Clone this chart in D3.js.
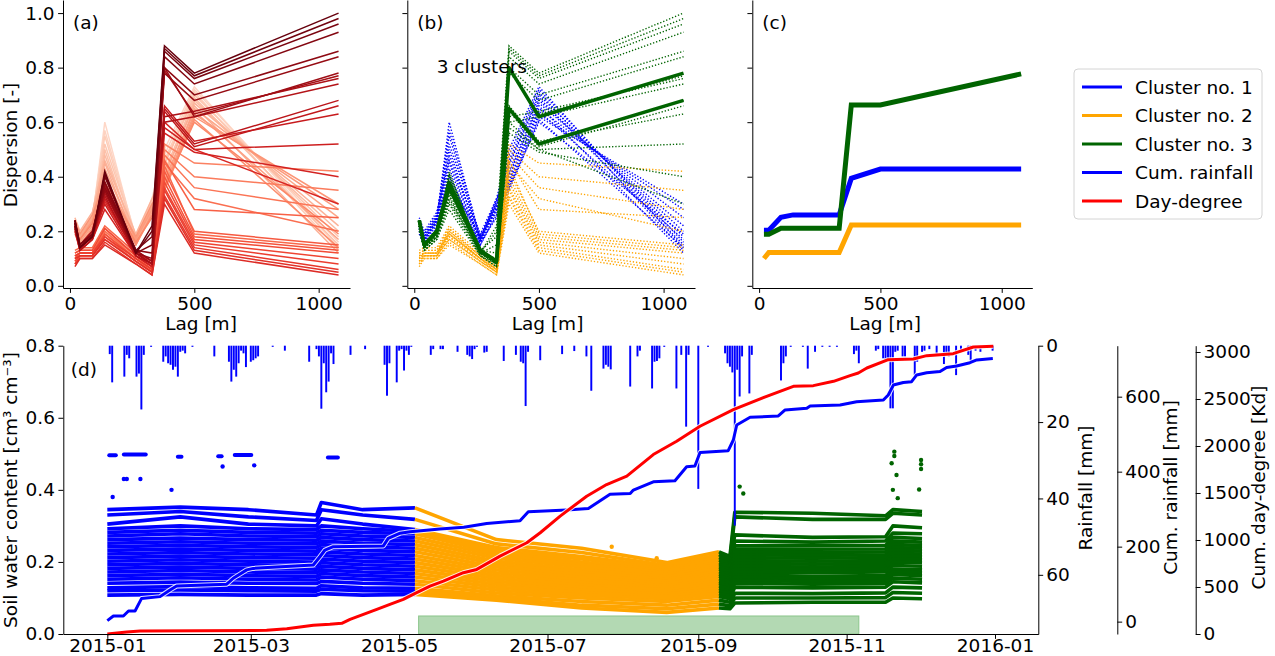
<!DOCTYPE html>
<html>
<head>
<meta charset="utf-8">
<script src="https://cdn.jsdelivr.net/npm/d3@7"></script>
<style>
  body { margin: 0; background: #fff; }
  text { font-family: "DejaVu Sans", sans-serif; }
</style>
</head>
<body>
<svg id="chart" width="1275" height="656"></svg>
<script>
// ---- variogram panels (a)-(c) ----
const lags = [20, 40, 90, 140, 265, 330, 380, 500, 1080];

// one curve per day, cluster 1 (Jan - early May)
const curvesCluster1 = [
  [0.22, 0.17, 0.24, 0.60, 0.17, 0.32, 0.50, 0.73, 0.14],
  [0.23, 0.18, 0.25, 0.57, 0.18, 0.31, 0.48, 0.72, 0.16],
  [0.21, 0.17, 0.24, 0.55, 0.17, 0.30, 0.46, 0.71, 0.13],
  [0.24, 0.19, 0.26, 0.52, 0.18, 0.31, 0.44, 0.70, 0.18],
  [0.20, 0.16, 0.23, 0.50, 0.16, 0.29, 0.45, 0.69, 0.15],
  [0.22, 0.18, 0.25, 0.48, 0.17, 0.30, 0.42, 0.68, 0.20],
  [0.25, 0.20, 0.27, 0.46, 0.19, 0.32, 0.40, 0.67, 0.22],
  [0.21, 0.17, 0.24, 0.45, 0.16, 0.28, 0.41, 0.66, 0.12],
  [0.23, 0.18, 0.25, 0.43, 0.17, 0.29, 0.38, 0.65, 0.25],
  [0.20, 0.16, 0.22, 0.41, 0.15, 0.27, 0.39, 0.64, 0.17],
  [0.22, 0.17, 0.24, 0.40, 0.17, 0.28, 0.37, 0.63, 0.28],
  [0.24, 0.19, 0.26, 0.38, 0.18, 0.30, 0.36, 0.62, 0.30],
  [0.19, 0.15, 0.21, 0.37, 0.15, 0.26, 0.35, 0.61, 0.14],
  [0.21, 0.17, 0.23, 0.36, 0.16, 0.25, 0.36, 0.60, 0.19]
];
// cluster 2 (May - early Sep)
const curvesCluster2 = [
  [0.10, 0.12, 0.12, 0.20, 0.10, 0.06, 0.52, 0.45, 0.42],
  [0.12, 0.13, 0.13, 0.21, 0.11, 0.07, 0.50, 0.40, 0.35],
  [0.09, 0.11, 0.11, 0.19, 0.10, 0.05, 0.48, 0.36, 0.28],
  [0.11, 0.12, 0.12, 0.20, 0.11, 0.06, 0.45, 0.32, 0.20],
  [0.13, 0.14, 0.14, 0.22, 0.12, 0.08, 0.44, 0.19, 0.14],
  [0.11, 0.12, 0.12, 0.19, 0.10, 0.06, 0.46, 0.28, 0.25],
  [0.08, 0.11, 0.11, 0.18, 0.09, 0.05, 0.42, 0.20, 0.15],
  [0.10, 0.12, 0.12, 0.19, 0.10, 0.06, 0.40, 0.18, 0.13],
  [0.12, 0.13, 0.13, 0.21, 0.11, 0.07, 0.38, 0.17, 0.12],
  [0.09, 0.11, 0.11, 0.17, 0.09, 0.05, 0.36, 0.16, 0.10],
  [0.11, 0.12, 0.12, 0.18, 0.10, 0.06, 0.35, 0.15, 0.08],
  [0.08, 0.10, 0.10, 0.16, 0.08, 0.04, 0.33, 0.14, 0.06],
  [0.10, 0.11, 0.11, 0.17, 0.09, 0.05, 0.32, 0.13, 0.05],
  [0.07, 0.10, 0.10, 0.15, 0.08, 0.04, 0.30, 0.12, 0.04]
];
// cluster 3 (Sep - Dec)
const curvesCluster3 = [
  [0.22, 0.14, 0.18, 0.31, 0.12, 0.09, 0.60, 0.50, 0.30],
  [0.20, 0.13, 0.17, 0.28, 0.11, 0.07, 0.56, 0.49, 0.40],
  [0.21, 0.13, 0.17, 0.30, 0.11, 0.07, 0.58, 0.50, 0.52],
  [0.22, 0.14, 0.18, 0.32, 0.12, 0.08, 0.66, 0.53, 0.63],
  [0.23, 0.14, 0.19, 0.35, 0.12, 0.08, 0.64, 0.51, 0.66],
  [0.24, 0.15, 0.20, 0.36, 0.13, 0.09, 0.65, 0.52, 0.68],
  [0.21, 0.13, 0.17, 0.33, 0.11, 0.08, 0.60, 0.62, 0.74],
  [0.22, 0.14, 0.18, 0.34, 0.12, 0.08, 0.62, 0.64, 0.76],
  [0.23, 0.14, 0.19, 0.37, 0.12, 0.08, 0.79, 0.63, 0.77],
  [0.24, 0.15, 0.20, 0.38, 0.13, 0.09, 0.80, 0.62, 0.78],
  [0.22, 0.14, 0.18, 0.35, 0.12, 0.10, 0.78, 0.68, 0.84],
  [0.23, 0.15, 0.19, 0.36, 0.13, 0.12, 0.80, 0.70, 0.86],
  [0.22, 0.14, 0.18, 0.38, 0.12, 0.15, 0.84, 0.74, 0.93],
  [0.24, 0.15, 0.19, 0.40, 0.13, 0.18, 0.86, 0.76, 0.96],
  [0.23, 0.14, 0.18, 0.41, 0.12, 0.20, 0.87, 0.77, 0.98],
  [0.24, 0.14, 0.18, 0.42, 0.12, 0.22, 0.88, 0.78, 1.00]
];
const boldCluster3 = [5, 9];   // curves that show as solid in (b)

const meanCluster1 = [0.204, 0.204, 0.251, 0.260, 0.260, 0.260, 0.394, 0.428, 0.428];
const meanCluster2 = [0.100, 0.122, 0.122, 0.122, 0.122, 0.122, 0.223, 0.223, 0.223];
const meanCluster3 = [0.189, 0.189, 0.211, 0.211, 0.211, 0.211, 0.663, 0.663, 0.777];

const lagTicks = [0, 500, 1000];
const dispTicks = [0, 0.2, 0.4, 0.6, 0.8, 1.0];

// ---- panel (d): days counted from 2015-01-01 ----
const swcKnotDays = [0, 30, 58, 86, 88, 105, 126.5, 160, 195, 230, 251.5, 256, 258, 290, 320, 323, 335];
const sensors = [
  [0.345, 0.352, 0.345, 0.330, 0.365, 0.345, 0.350, 0.262, 0.238, 0.198, 0.228, 0.215, 0.338, 0.335, 0.328, 0.345, 0.340],
  [0.330, 0.340, 0.325, 0.315, 0.345, 0.330, 0.318, 0.250, 0.226, 0.190, 0.220, 0.205, 0.325, 0.318, 0.318, 0.335, 0.330],
  [0.305, 0.325, 0.305, 0.300, 0.320, 0.305, 0.290, 0.240, 0.215, 0.185, 0.212, 0.200, 0.275, 0.268, 0.270, 0.300, 0.295],
  [0.292, 0.300, 0.292, 0.290, 0.300, 0.292, 0.285, 0.232, 0.208, 0.180, 0.205, 0.195, 0.258, 0.255, 0.258, 0.280, 0.278],
  [0.282, 0.288, 0.282, 0.280, 0.288, 0.282, 0.278, 0.225, 0.200, 0.175, 0.198, 0.190, 0.245, 0.245, 0.246, 0.268, 0.265],
  [0.272, 0.278, 0.272, 0.270, 0.278, 0.272, 0.268, 0.218, 0.193, 0.170, 0.192, 0.185, 0.236, 0.235, 0.236, 0.258, 0.255],
  [0.262, 0.266, 0.262, 0.260, 0.268, 0.262, 0.258, 0.210, 0.186, 0.164, 0.186, 0.178, 0.228, 0.226, 0.228, 0.248, 0.246],
  [0.252, 0.256, 0.252, 0.250, 0.258, 0.252, 0.248, 0.202, 0.178, 0.158, 0.180, 0.172, 0.220, 0.218, 0.220, 0.240, 0.238],
  [0.242, 0.246, 0.242, 0.240, 0.248, 0.242, 0.238, 0.194, 0.171, 0.152, 0.173, 0.165, 0.212, 0.210, 0.212, 0.232, 0.230],
  [0.232, 0.236, 0.232, 0.230, 0.238, 0.232, 0.228, 0.186, 0.164, 0.146, 0.166, 0.158, 0.204, 0.202, 0.204, 0.224, 0.222],
  [0.222, 0.226, 0.222, 0.220, 0.228, 0.222, 0.218, 0.178, 0.157, 0.140, 0.160, 0.152, 0.196, 0.194, 0.196, 0.216, 0.214],
  [0.212, 0.216, 0.212, 0.210, 0.218, 0.212, 0.208, 0.170, 0.150, 0.134, 0.153, 0.145, 0.188, 0.186, 0.188, 0.208, 0.206],
  [0.202, 0.206, 0.202, 0.200, 0.208, 0.202, 0.198, 0.162, 0.143, 0.128, 0.146, 0.138, 0.180, 0.178, 0.180, 0.200, 0.198],
  [0.192, 0.196, 0.192, 0.190, 0.198, 0.192, 0.188, 0.154, 0.136, 0.122, 0.140, 0.132, 0.172, 0.170, 0.172, 0.190, 0.188],
  [0.182, 0.186, 0.182, 0.180, 0.188, 0.182, 0.178, 0.146, 0.129, 0.116, 0.133, 0.125, 0.164, 0.160, 0.162, 0.180, 0.178],
  [0.172, 0.176, 0.172, 0.170, 0.178, 0.172, 0.168, 0.138, 0.122, 0.110, 0.126, 0.118, 0.158, 0.152, 0.155, 0.172, 0.170],
  [0.162, 0.166, 0.162, 0.160, 0.168, 0.162, 0.158, 0.130, 0.115, 0.104, 0.119, 0.112, 0.150, 0.145, 0.148, 0.165, 0.162],
  [0.152, 0.156, 0.152, 0.150, 0.158, 0.152, 0.148, 0.122, 0.108, 0.098, 0.112, 0.105, 0.141, 0.138, 0.140, 0.155, 0.152],
  [0.141, 0.144, 0.141, 0.140, 0.146, 0.141, 0.138, 0.114, 0.100, 0.090, 0.104, 0.098, 0.130, 0.128, 0.130, 0.145, 0.142],
  [0.128, 0.132, 0.128, 0.127, 0.134, 0.128, 0.127, 0.106, 0.090, 0.080, 0.094, 0.088, 0.113, 0.112, 0.114, 0.130, 0.128],
  [0.120, 0.122, 0.120, 0.119, 0.124, 0.120, 0.119, 0.100, 0.080, 0.070, 0.083, 0.078, 0.100, 0.100, 0.101, 0.115, 0.113],
  [0.108, 0.110, 0.108, 0.108, 0.112, 0.108, 0.110, 0.094, 0.072, 0.060, 0.072, 0.070, 0.086, 0.088, 0.088, 0.100, 0.098]
];
// short runs of a wet sensor near 0.5 [startDay, endDay, value]
const highRuns = [[0.8, 3.5, 0.496], [6.8, 15.8, 0.498], [29, 30.5, 0.492], [45.6, 47, 0.493], [52.4, 59.2, 0.497], [90.7, 94.8, 0.49]];
// isolated readings [day, value]
const strayReadings = [[2.2, 0.38], [6.8, 0.43], [8, 0.43], [13.6, 0.43], [26.4, 0.40], [47.4, 0.465], [60.4, 0.468],
  [207.4, 0.242], [225.9, 0.21], [260, 0.409], [261.5, 0.39], [323.6, 0.506], [323.6, 0.494], [322.5, 0.474],
  [324.5, 0.441], [323, 0.40], [325, 0.377], [334.6, 0.483], [334.6, 0.471], [334.6, 0.458], [333.8, 0.401]];

// daily rainfall [day, mm]
const rainfall = [[1, 2.2], [2, 9.6], [7, 8.1], [8, 2.4], [9, 3.3], [12, 8.1], [13, 7.3], [14, 16.7], [15, 2.4], [18, 0.3],
  [23, 4.2], [24, 2.8], [25, 4.6], [26, 5.0], [27, 6.3], [28, 5.5], [29, 8.1], [30, 1.6], [31, 1.3], [32, 2.0], [35, 0.3],
  [44, 2.8], [50, 4.2], [51, 9.4], [52, 6.3], [53, 8.1], [54, 4.6], [55, 1.3], [56, 2.0], [57, 5.6], [59, 4.2], [60, 3.8],
  [61, 3.3], [62, 2.8], [68, 0.3], [73, 1.3], [83, 4.2], [86, 0.9], [87, 2.8], [88, 16.5], [89, 4.6], [90, 12.2], [91, 9.4],
  [92, 2.0], [93, 4.8], [100, 2.4], [106, 0.9], [114, 5.0], [115, 13.1], [116, 4.6], [119, 9.6], [120, 1.3], [121, 0.9],
  [122, 6.5], [123, 1.3], [124, 2.4], [125, 0.3], [133, 2.4], [134, 0.9], [137, 0.9], [138, 0.9], [144, 1.6], [148, 2.4],
  [149, 2.8], [150, 3.5], [151, 0.9], [152, 0.3], [155, 1.8], [156, 1.6], [163, 4.0], [168, 2.4], [170, 4.2], [171, 4.6],
  [172, 15.8], [173, 1.6], [178, 3.8], [187, 2.2], [192, 1.4], [197, 2.8], [199, 11.8], [204, 6.0], [205, 5.0], [206, 5.5],
  [207, 6.2], [215, 10.7], [218, 2.8], [219, 1.3], [224, 11.2], [225, 4.2], [226, 4.0], [227, 3.3], [229, 0.3], [234, 11.2],
  [236, 2.4], [238, 21.2], [239, 2.4], [243, 37.5], [247, 0.3], [254, 2.0], [255, 4.6], [256, 5.5], [257, 7.0], [258, 47.1],
  [259, 6.3], [260, 13.3], [261, 2.8], [264, 12.5], [265, 2.4], [277, 9.1], [278, 4.6], [279, 2.8], [281, 0.3], [286, 0.3],
  [288, 6.0], [291, 1.6], [294, 0.3], [297, 0.3], [300, 0.3], [307, 2.2], [308, 1.3], [309, 4.6], [316, 1.3], [317, 0.9],
  [319, 3.3], [320, 4.2], [321, 3.8], [322, 16.4], [323, 16.4], [324, 1.6], [325, 1.3], [327, 2.8], [328, 2.8], [332, 7.7],
  [333, 4.2], [335, 1.6], [336, 1.3], [338, 0.9], [341, 2.2], [344, 4.8], [345, 2.2], [346, 2.8], [349, 7.7], [351, 1.6],
  [354, 2.4], [355, 4.2], [357, 1.3], [359, 1.6], [364, 1.3]];

// cumulative rainfall [day, mm]
const cumRain = [[0, 2.7], [2.5, 15], [6.6, 15], [8.7, 28.5], [11.4, 28.5], [14.1, 62], [21.7, 66.7], [25.8, 84.5], [28.5, 95],
  [49.1, 100], [51.8, 115.7], [57.3, 138], [60, 142], [84.7, 151], [87.4, 173], [89.5, 191], [92.9, 200], [113.5, 202],
  [115.5, 222], [120.4, 236], [124.5, 240], [136.8, 247], [146.6, 251.7], [156, 262], [169.7, 269], [173.1, 293],
  [188.9, 298], [197.8, 302], [206.7, 340], [215, 342], [216.3, 351], [224.5, 373], [233.4, 376], [238.2, 413],
  [241.6, 415], [243.7, 451], [255.3, 456], [257.4, 484.5], [258.8, 524.5], [264.3, 545], [275.9, 548.5], [278.7, 564.5],
  [287.6, 569], [289, 575], [301.3, 578], [308.1, 586.7], [319.1, 591], [321.1, 604.5], [323.2, 631], [327.3, 638],
  [330.7, 640], [332.8, 658], [336.9, 664], [342.4, 667], [345.1, 678], [349.2, 682], [354.7, 690.7], [357.5, 698], [364.1, 702]];

// cumulative day-degree [day, Kd]
const dayDegree = [[0, 0], [8, 21], [13.5, 32], [65.5, 39], [73.8, 57], [84.7, 92], [91.5, 103], [96.4, 114], [99.8, 156],
  [105.3, 209], [110.8, 262], [116.2, 315], [121.7, 369], [127.2, 440], [132.7, 510], [138.2, 563], [146.4, 652],
  [151.9, 687], [161.5, 829], [172.5, 971], [178, 1077], [186.2, 1254], [197.1, 1466], [205.3, 1590], [213.6, 1679],
  [224.5, 1909], [234.1, 2050], [243.7, 2210], [257.4, 2387], [271.1, 2528], [282.1, 2635], [290.3, 2642], [298.6, 2688],
  [305.4, 2748], [308.8, 2777], [312.3, 2830], [321.1, 2918], [331.4, 2926], [336.9, 2961], [347.8, 2982], [356.1, 3053],
  [364.3, 3060]];

const growingSeason = ["2015-05-09", "2015-11-06"];
const dateTicks = ["2015-01-01", "2015-03-01", "2015-05-01", "2015-07-01", "2015-09-01", "2015-11-01", "2016-01-01"];
const swcTicks = [0, 0.2, 0.4, 0.6, 0.8];
const rainTicks = [0, 20, 40, 60];
const cumRainTicks = [0, 200, 400, 600];
const ddTicks = [0, 500, 1000, 1500, 2000, 2500, 3000];

const legendItems = [
  ["Cluster no. 1", "#0000ff"], ["Cluster no. 2", "#ffa500"], ["Cluster no. 3", "#006400"],
  ["Cum. rainfall", "#0000ff"], ["Day-degree", "#ff0000"]
];

// ---------------------------------------------------------------
const BLUE = "#0000ff", ORANGE = "#ffa500", GREEN = "#006400", RED = "#ff0000";
const FS = 18.5;
const svg = d3.select("#chart");
const intFmt = d3.format("d");

function styleAxis(g) {
  g.attr("font-size", FS).attr("font-family", "DejaVu Sans");
  g.selectAll(".domain").attr("stroke", "#000").attr("stroke-width", 1);
  g.selectAll(".tick line").attr("stroke", "#000").attr("stroke-width", 1);
  g.selectAll(".tick text").attr("fill", "#000");
}

// ---- top row ----
const yDisp = d3.scaleLinear().domain([-0.008, 1.048]).range([288, 0]);
const panels = [
  { tag: "(a)", left: 63, right: 350, labelX: 201 },
  { tag: "(b)", left: 407.3, right: 695, labelX: 547.5 },
  { tag: "(c)", left: 752.3, right: 1032.3, labelX: 885 }
];
panels.forEach(p => { p.x = d3.scaleLinear().domain([-28, 1126]).range([p.left, p.right]); });

const curveLine = x => d3.line().x((v, i) => x(lags[i])).y(v => yDisp(v));

// (a) coloured by date
const allCurves = curvesCluster1.concat(curvesCluster2, curvesCluster3);
const pa = panels[0];
svg.append("g").selectAll("path").data(allCurves).join("path")
  .attr("d", curveLine(pa.x))
  .attr("fill", "none")
  .attr("stroke", (d, i) => d3.interpolateReds(0.15 + 0.85 * i / (allCurves.length - 1)))
  .attr("stroke-width", 1.5);

// (b) coloured by cluster
const pb = panels[1];
[[curvesCluster1, BLUE], [curvesCluster2, ORANGE], [curvesCluster3, GREEN]].forEach(([set, col]) => {
  svg.append("g").selectAll("path").data(set).join("path")
    .attr("d", curveLine(pb.x))
    .attr("fill", "none")
    .attr("stroke", col)
    .attr("stroke-width", 1.4)
    .attr("stroke-dasharray", "1.3,1.9");
});
svg.append("g").selectAll("path").data(boldCluster3.map(i => curvesCluster3[i])).join("path")
  .attr("d", curveLine(pb.x))
  .attr("fill", "none").attr("stroke", GREEN).attr("stroke-width", 3.5).attr("stroke-linejoin", "round");
svg.append("text").attr("x", 436.7).attr("y", 72.5).attr("font-size", FS).text("3 clusters");

// (c) cluster curves
const pc = panels[2];
[[meanCluster1, BLUE], [meanCluster2, ORANGE], [meanCluster3, GREEN]].forEach(([m, col]) => {
  svg.append("path").datum(m).attr("d", curveLine(pc.x))
    .attr("fill", "none").attr("stroke", col).attr("stroke-width", 5);
});

panels.forEach((p, k) => {
  const gx = svg.append("g").attr("transform", "translate(0,288)")
    .call(d3.axisBottom(p.x).tickValues(lagTicks).tickFormat(intFmt)
      .tickSize(4.9).tickPadding(4).tickSizeOuter(0));
  styleAxis(gx);
  const gy = svg.append("g").attr("transform", `translate(${p.left},0)`)
    .call(d3.axisLeft(yDisp).tickValues(dispTicks).tickSize(4.9).tickPadding(3.5).tickSizeOuter(0)
      .tickFormat(k === 0 ? d3.format(".1f") : () => ""));
  styleAxis(gy);
  svg.append("text").attr("x", p.labelX).attr("y", 330).attr("text-anchor", "middle")
    .attr("font-size", FS).text("Lag [m]");
  svg.append("text").attr("x", p.left + 10).attr("y", 29).attr("font-size", FS).text(p.tag);
});
svg.append("text").attr("transform", "translate(17,145) rotate(-90)").attr("text-anchor", "middle")
  .attr("font-size", FS).text("Dispersion [-]");

// legend
const lg = svg.append("g").attr("transform", "translate(1074,69)");
lg.append("rect").attr("width", 188).attr("height", 150).attr("rx", 4)
  .attr("fill", "#fff").attr("stroke", "#d4d4d4").attr("stroke-width", 1);
legendItems.forEach(([name, col], i) => {
  const yy = 18 + i * 28.5;
  lg.append("line").attr("x1", 8).attr("x2", 48).attr("y1", yy).attr("y2", yy)
    .attr("stroke", col).attr("stroke-width", 3);
  lg.append("text").attr("x", 61).attr("y", yy).attr("dy", "0.36em").attr("font-size", FS).text(name);
});

// ---- panel (d) ----
const dayToDate = d => new Date(Date.UTC(2015, 0, 1) + d * 864e5);
const xDate = d3.scaleUtc().domain([dayToDate(-18.1), dayToDate(382.8)]).range([63.3, 1038.3]);
const ySwc = d3.scaleLinear().domain([0, 0.8]).range([634, 345.7]);
const yRain = d3.scaleLinear().domain([0, 75.5]).range([345.7, 634]);
const yCum = d3.scaleLinear().domain([-33, 736]).range([634, 345.7]);
const yDD = d3.scaleLinear().domain([0, 3067]).range([634, 345.7]);
const clusterColour = d => d <= 126.5 ? BLUE : (d <= 251.5 ? ORANGE : GREEN);

const swcLine = d3.line().x(d => xDate(dayToDate(d[0]))).y(d => ySwc(d[1]));
[[0, 6, BLUE], [6, 10, ORANGE], [10, 16, GREEN]].forEach(([a, b, col]) => {
  svg.append("g").selectAll("path").data(sensors).join("path")
    .attr("d", s => swcLine(swcKnotDays.slice(a, b + 1).map((d, i) => [d, s[a + i]])))
    .attr("fill", "none").attr("stroke", col).attr("stroke-width", 3.6)
    .attr("stroke-linejoin", "round");
});
svg.append("g").selectAll("line").data(highRuns).join("line")
  .attr("x1", d => xDate(dayToDate(d[0]))).attr("x2", d => xDate(dayToDate(d[1])))
  .attr("y1", d => ySwc(d[2])).attr("y2", d => ySwc(d[2]))
  .attr("stroke", BLUE).attr("stroke-width", 4).attr("stroke-linecap", "round");
svg.append("g").selectAll("circle").data(strayReadings).join("circle")
  .attr("cx", d => xDate(dayToDate(d[0]))).attr("cy", d => ySwc(d[1])).attr("r", 2.2)
  .attr("fill", d => clusterColour(d[0]));

// growing season band
const gs = growingSeason.map(s => new Date(s + "T00:00:00Z"));
svg.append("rect").attr("x", xDate(gs[0])).attr("width", xDate(gs[1]) - xDate(gs[0]))
  .attr("y", ySwc(0.05)).attr("height", ySwc(0) - ySwc(0.05))
  .attr("fill", "#b3d9b3").attr("stroke", "#8cc68c").attr("stroke-width", 1);

// rainfall bars hanging from the top
svg.append("g").selectAll("rect").data(rainfall).join("rect")
  .attr("x", d => xDate(dayToDate(d[0] - 0.4)))
  .attr("width", d => xDate(dayToDate(d[0] + 0.4)) - xDate(dayToDate(d[0] - 0.4)))
  .attr("y", yRain(0)).attr("height", d => yRain(d[1]) - yRain(0))
  .attr("fill", BLUE);

// cumulative lines with a thin white halo
function haloLine(data, yScale, col) {
  const gen = d3.line().x(d => xDate(dayToDate(d[0]))).y(d => yScale(d[1]));
  svg.append("path").datum(data).attr("d", gen).attr("fill", "none")
    .attr("stroke", "#fff").attr("stroke-opacity", 0.85).attr("stroke-width", 5).attr("stroke-linejoin", "round");
  svg.append("path").datum(data).attr("d", gen).attr("fill", "none")
    .attr("stroke", col).attr("stroke-width", 3).attr("stroke-linejoin", "round");
}
haloLine(cumRain, yCum, BLUE);
haloLine(dayDegree, yDD, RED);

// axes of (d)
const gxd = svg.append("g").attr("transform", "translate(0,634)")
  .call(d3.axisBottom(xDate).tickValues(dateTicks.map(s => new Date(s + "T00:00:00Z")))
    .tickFormat(d3.utcFormat("%Y-%m")).tickSize(4.9).tickPadding(0).tickSizeOuter(0));
styleAxis(gxd);
const gyd = svg.append("g").attr("transform", "translate(63.3,0)")
  .call(d3.axisLeft(ySwc).tickValues(swcTicks).tickFormat(d3.format(".1f")).tickSize(4.9).tickPadding(3.5).tickSizeOuter(0));
styleAxis(gyd);
const gr = svg.append("g").attr("transform", "translate(1038.3,0)")
  .call(d3.axisRight(yRain).tickValues(rainTicks).tickFormat(intFmt).tickSize(4.9).tickPadding(3).tickSizeOuter(0));
styleAxis(gr);
const gc = svg.append("g").attr("transform", "translate(1117.3,0)")
  .call(d3.axisRight(yCum).tickValues(cumRainTicks).tickFormat(intFmt).tickSize(4.9).tickPadding(3).tickSizeOuter(0));
styleAxis(gc);
const gd = svg.append("g").attr("transform", "translate(1195.7,0)")
  .call(d3.axisRight(yDD).tickValues(ddTicks).tickFormat(intFmt).tickSize(4.9).tickPadding(3).tickSizeOuter(0));
styleAxis(gd);

svg.append("text").attr("x", 70.7).attr("y", 376).attr("font-size", FS).text("(d)");
svg.append("text").attr("transform", "translate(17,490) rotate(-90)").attr("text-anchor", "middle")
  .attr("font-size", FS).text("Soil water content [cm³ cm⁻³]");
svg.append("text").attr("transform", "translate(1092,488) rotate(-90)").attr("text-anchor", "middle")
  .attr("font-size", FS).text("Rainfall [mm]");
svg.append("text").attr("transform", "translate(1177,487.5) rotate(-90)").attr("text-anchor", "middle")
  .attr("font-size", FS).text("Cum. rainfall [mm]");
svg.append("text").attr("transform", "translate(1265,487.5) rotate(-90)").attr("text-anchor", "middle")
  .attr("font-size", FS).text("Cum. day-degree [Kd]");
</script>
</body>
</html>
